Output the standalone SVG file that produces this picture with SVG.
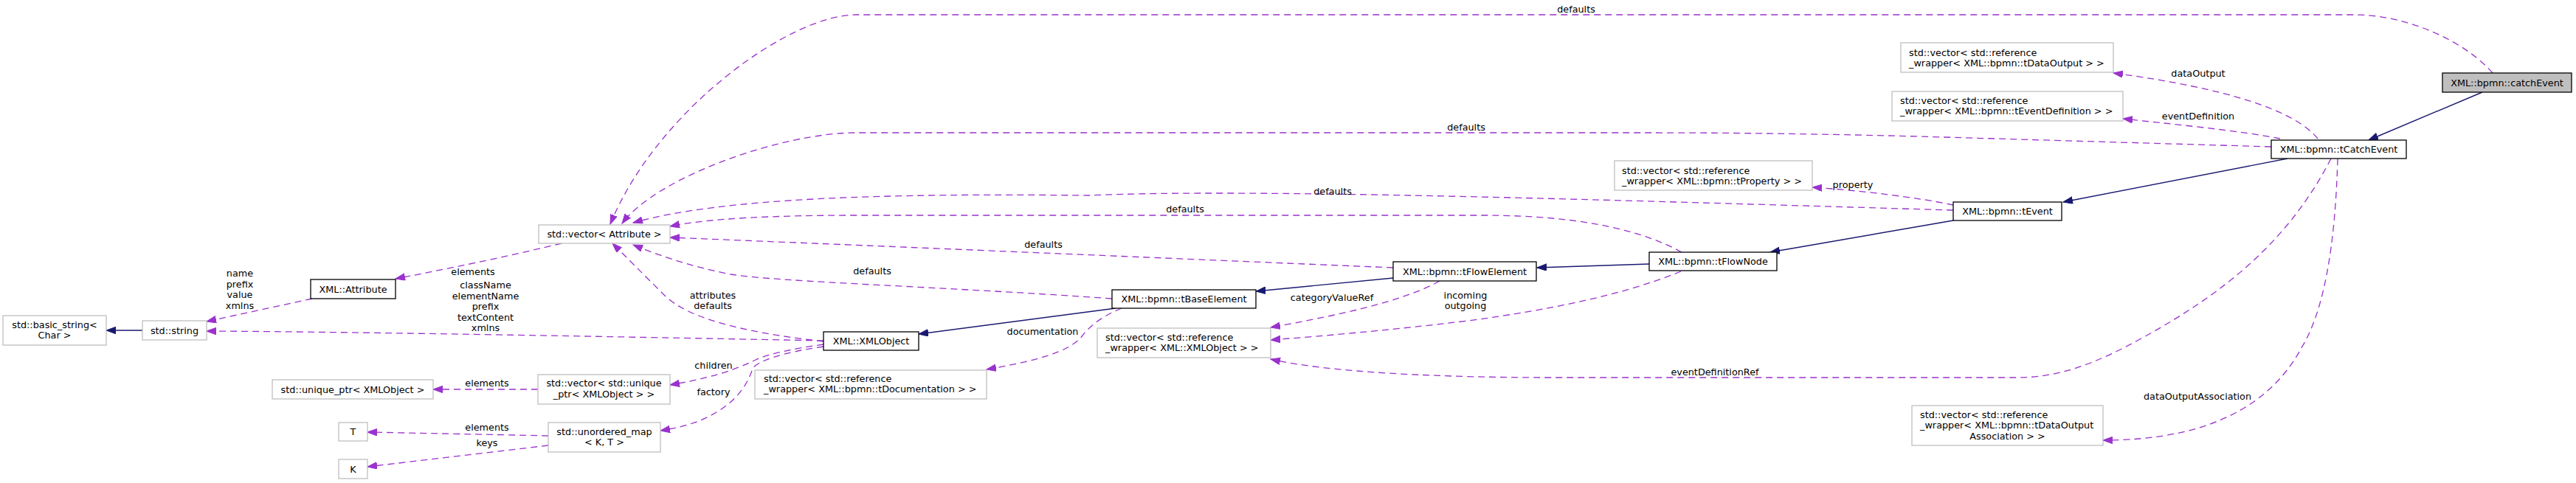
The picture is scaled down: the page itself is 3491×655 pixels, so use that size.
<svg xmlns="http://www.w3.org/2000/svg" width="3491" height="655" viewBox="0 0 3491 655">
<style>
text{font-family:"DejaVu Sans","Liberation Sans",sans-serif;font-size:12.8px;fill:#000}
.c{text-anchor:middle}
.n rect{fill:#fff;stroke:#000;stroke-width:1.3}
.g rect{fill:#fff;stroke:#bfbfbf;stroke-width:1.3}
.cur rect{fill:#bfbfbf;stroke:#000;stroke-width:1.3}
.inh{fill:none;stroke:#191970;stroke-width:1.4}
.use{fill:none;stroke:#9a32cd;stroke-width:1.3;stroke-dasharray:9,6}
</style>
<defs>
<marker id="ai" markerUnits="userSpaceOnUse" markerWidth="14" markerHeight="10" refX="13" refY="4.75" orient="auto" viewBox="0 0 14 10"><path d="M0,0 L13,4.75 L0,9.5 z" fill="#191970" stroke="#191970" stroke-width="1"/></marker>
<marker id="au" markerUnits="userSpaceOnUse" markerWidth="14" markerHeight="10" refX="13" refY="4.75" orient="auto" viewBox="0 0 14 10"><path d="M0,0 L13,4.75 L0,9.5 z" fill="#9a32cd" stroke="#9a32cd" stroke-width="1"/></marker>
</defs>
<rect width="3491" height="655" fill="#fff"/>

<g id="edges">
<!-- inheritance -->
<path class="inh" marker-end="url(#ai)" d="M3364,125 L3210,190"/>
<path class="inh" marker-end="url(#ai)" d="M3100,215 L2796,274"/>
<path class="inh" marker-end="url(#ai)" d="M2647,299 L2399,342"/>
<path class="inh" marker-end="url(#ai)" d="M2235,358 L2083,363"/>
<path class="inh" marker-end="url(#ai)" d="M1888,377 L1702,395"/>
<path class="inh" marker-end="url(#ai)" d="M1512,418 L1245,453"/>
<path class="inh" marker-end="url(#ai)" d="M193,448 L144,448"/>
<!-- usage -->
<path class="use" marker-end="url(#au)" d="M3378,99 C3340,55 3260,20 3192,20 L1160,20 C1070,20 890,150 827,304"/>
<path class="use" marker-end="url(#au)" d="M3078,199 L2600,185 C2400,180 2300,180 2200,180 L1160,180 C1060,180 890,240 843,303"/>
<path class="use" marker-end="url(#au)" d="M3141,188 C3110,150 3020,120 2864,99"/>
<path class="use" marker-end="url(#au)" d="M3090,188 C3040,178 2960,170 2877,161"/>
<path class="use" marker-end="url(#au)" d="M2647,285 C2200,272 1700,255 1475,265 C1200,262 980,268 858,302"/>
<path class="use" marker-end="url(#au)" d="M2279,342 C2230,315 2150,292 2009,292 L1160,292 C1050,292 960,296 908,307"/>
<path class="use" marker-end="url(#au)" d="M1888,363 C1600,351 1300,338 908,322"/>
<path class="use" marker-end="url(#au)" d="M1507,405 C1300,390 1050,382 990,372 C930,360 890,345 858,332"/>
<path class="use" marker-end="url(#au)" d="M1116,463 C1000,450 930,430 900,400 C870,370 850,350 830,330"/>
<path class="use" marker-end="url(#au)" d="M1116,462 C900,458 500,450 280,449"/>
<path class="use" marker-end="url(#au)" d="M761,330 C700,345 620,362 536,378"/>
<path class="use" marker-end="url(#au)" d="M423,405 L280,436"/>
<path class="use" marker-end="url(#au)" d="M1116,467 C1080,472 1040,480 1024,488 C990,505 950,515 908,522"/>
<path class="use" marker-end="url(#au)" d="M1116,470 C1060,478 1025,490 1020,500 C1010,530 990,550 960,565 C940,575 920,580 895,584"/>
<path class="use" marker-end="url(#au)" d="M729,528 L587,528"/>
<path class="use" marker-end="url(#au)" d="M743,591 C700,590 600,588 498,586"/>
<path class="use" marker-end="url(#au)" d="M743,604 L498,633"/>
<path class="use" marker-end="url(#au)" d="M1520,418 C1490,430 1475,445 1467,455 C1450,478 1400,490 1337,501"/>
<path class="use" marker-end="url(#au)" d="M1951,381 C1900,410 1800,430 1722,444"/>
<path class="use" marker-end="url(#au)" d="M2278,368 C2200,400 2100,420 1990,435 C1880,448 1800,455 1722,461"/>
<path class="use" marker-end="url(#au)" d="M3159,215 C3100,330 3010,400 2900,460 C2840,493 2790,512 2734,512 L2102,512 C1950,512 1800,505 1722,487"/>
<path class="use" marker-end="url(#au)" d="M3168,215 C3165,330 3150,420 3120,470 C3080,545 3000,597 2850,597"/>
<path class="use" marker-end="url(#au)" d="M2647,278 C2600,268 2520,258 2456,254"/>
<!-- labels -->
<text class="c" x="2136" y="16.5">defaults</text>
<text class="c" x="1987" y="176.5">defaults</text>
<text class="c" x="2979" y="103.5">dataOutput</text>
<text class="c" x="2979" y="161.5">eventDefinition</text>
<text class="c" x="1806" y="263.5">defaults</text>
<text class="c" x="1606" y="287.5">defaults</text>
<text class="c" x="1414" y="335.5">defaults</text>
<text class="c" x="1182" y="371.5">defaults</text>
<text class="c" x="966" y="404.5">attributes</text>
<text class="c" x="966" y="419">defaults</text>
<text class="c" x="658" y="391">className</text>
<text class="c" x="658" y="405.5">elementName</text>
<text class="c" x="658" y="420">prefix</text>
<text class="c" x="658" y="434.5">textContent</text>
<text class="c" x="658" y="449">xmlns</text>
<text class="c" x="641" y="372.5">elements</text>
<text class="c" x="325" y="375">name</text>
<text class="c" x="325" y="389.5">prefix</text>
<text class="c" x="325" y="404">value</text>
<text class="c" x="325" y="418.5">xmlns</text>
<text class="c" x="967" y="499.5">children</text>
<text class="c" x="967" y="535.5">factory</text>
<text class="c" x="660" y="523.5">elements</text>
<text class="c" x="660" y="583.5">elements</text>
<text class="c" x="660" y="604.5">keys</text>
<text class="c" x="1413" y="453.5">documentation</text>
<text class="c" x="1805" y="407.5">categoryValueRef</text>
<text class="c" x="1986" y="404.5">incoming</text>
<text class="c" x="1986" y="419">outgoing</text>
<text class="c" x="2324" y="508.5">eventDefinitionRef</text>
<text class="c" x="2978" y="541.5">dataOutputAssociation</text>
<text class="c" x="2511" y="254.5">property</text>
</g>

<g id="catchEvent" class="cur"><rect x="3310" y="99" width="175" height="26"/><text class="c" x="3397.5" y="116.5">XML::bpmn::catchEvent</text></g>
<g id="tCatchEvent" class="n"><rect x="3078" y="190" width="183" height="25"/><text class="c" x="3169.5" y="207">XML::bpmn::tCatchEvent</text></g>
<g id="vecDataOutput" class="g"><rect x="2576" y="58" width="288" height="40"/><text x="2587" y="75.5">std::vector&lt; std::reference</text><text x="2587" y="90">_wrapper&lt; XML::bpmn::tDataOutput &gt; &gt;</text></g>
<g id="vecEventDefinition" class="g"><rect x="2564" y="124" width="313" height="40"/><text x="2575" y="140.5">std::vector&lt; std::reference</text><text x="2575" y="155">_wrapper&lt; XML::bpmn::tEventDefinition &gt; &gt;</text></g>
<g id="tEvent" class="n"><rect x="2647" y="274" width="147" height="25"/><text class="c" x="2720.5" y="291">XML::bpmn::tEvent</text></g>
<g id="vecProperty" class="g"><rect x="2188" y="218" width="268" height="40"/><text x="2198" y="235.5">std::vector&lt; std::reference</text><text x="2198" y="250">_wrapper&lt; XML::bpmn::tProperty &gt; &gt;</text></g>
<g id="tFlowNode" class="n"><rect x="2235" y="342" width="173" height="25"/><text class="c" x="2321.5" y="359">XML::bpmn::tFlowNode</text></g>
<g id="tFlowElement" class="n"><rect x="1888" y="355" width="194" height="26"/><text class="c" x="1985" y="372.5">XML::bpmn::tFlowElement</text></g>
<g id="tBaseElement" class="n"><rect x="1507" y="393" width="195" height="25"/><text class="c" x="1604.5" y="410">XML::bpmn::tBaseElement</text></g>
<g id="vecRefXMLObject" class="g"><rect x="1487" y="445" width="235" height="40"/><text x="1498" y="461.5">std::vector&lt; std::reference</text><text x="1498" y="476">_wrapper&lt; XML::XMLObject &gt; &gt;</text></g>
<g id="vecDocumentation" class="g"><rect x="1023" y="502" width="314" height="39"/><text x="1035" y="517.5">std::vector&lt; std::reference</text><text x="1035" y="532">_wrapper&lt; XML::bpmn::tDocumentation &gt; &gt;</text></g>
<g id="vecDataOutputAssociation" class="g"><rect x="2591" y="550" width="259" height="54"/><text x="2602" y="566.5">std::vector&lt; std::reference</text><text x="2602" y="581">_wrapper&lt; XML::bpmn::tDataOutput</text><text class="c" x="2720.5" y="595.5">Association &gt; &gt;</text></g>
<g id="XMLObject" class="n"><rect x="1116" y="450" width="129" height="25"/><text class="c" x="1180.5" y="467">XML::XMLObject</text></g>
<g id="vecAttribute" class="g"><rect x="730" y="305" width="178" height="25"/><text class="c" x="819" y="322">std::vector&lt; Attribute &gt;</text></g>
<g id="Attribute" class="n"><rect x="421" y="379" width="115" height="26"/><text class="c" x="478.5" y="396.5">XML::Attribute</text></g>
<g id="string" class="g"><rect x="193" y="435" width="87" height="26"/><text class="c" x="236.5" y="452.5">std::string</text></g>
<g id="basicString" class="g"><rect x="4" y="428" width="140" height="40"/><text class="c" x="74" y="444.5">std::basic_string&lt;</text><text class="c" x="74" y="459">Char &gt;</text></g>
<g id="vecUniquePtr" class="g"><rect x="729" y="508" width="179" height="40"/><text class="c" x="818.5" y="523.5">std::vector&lt; std::unique</text><text class="c" x="818.5" y="538.5">_ptr&lt; XMLObject &gt; &gt;</text></g>
<g id="uniquePtr" class="g"><rect x="369" y="515" width="218" height="26"/><text class="c" x="478" y="532.5">std::unique_ptr&lt; XMLObject &gt;</text></g>
<g id="unorderedMap" class="g"><rect x="743" y="573" width="152" height="40"/><text class="c" x="819" y="589.5">std::unordered_map</text><text class="c" x="819" y="604">&lt; K, T &gt;</text></g>
<g id="T" class="g"><rect x="459" y="573" width="39" height="25"/><text class="c" x="478.5" y="590">T</text></g>
<g id="K" class="g"><rect x="459" y="623" width="39" height="26"/><text class="c" x="478.5" y="640.5">K</text></g>
</svg>
